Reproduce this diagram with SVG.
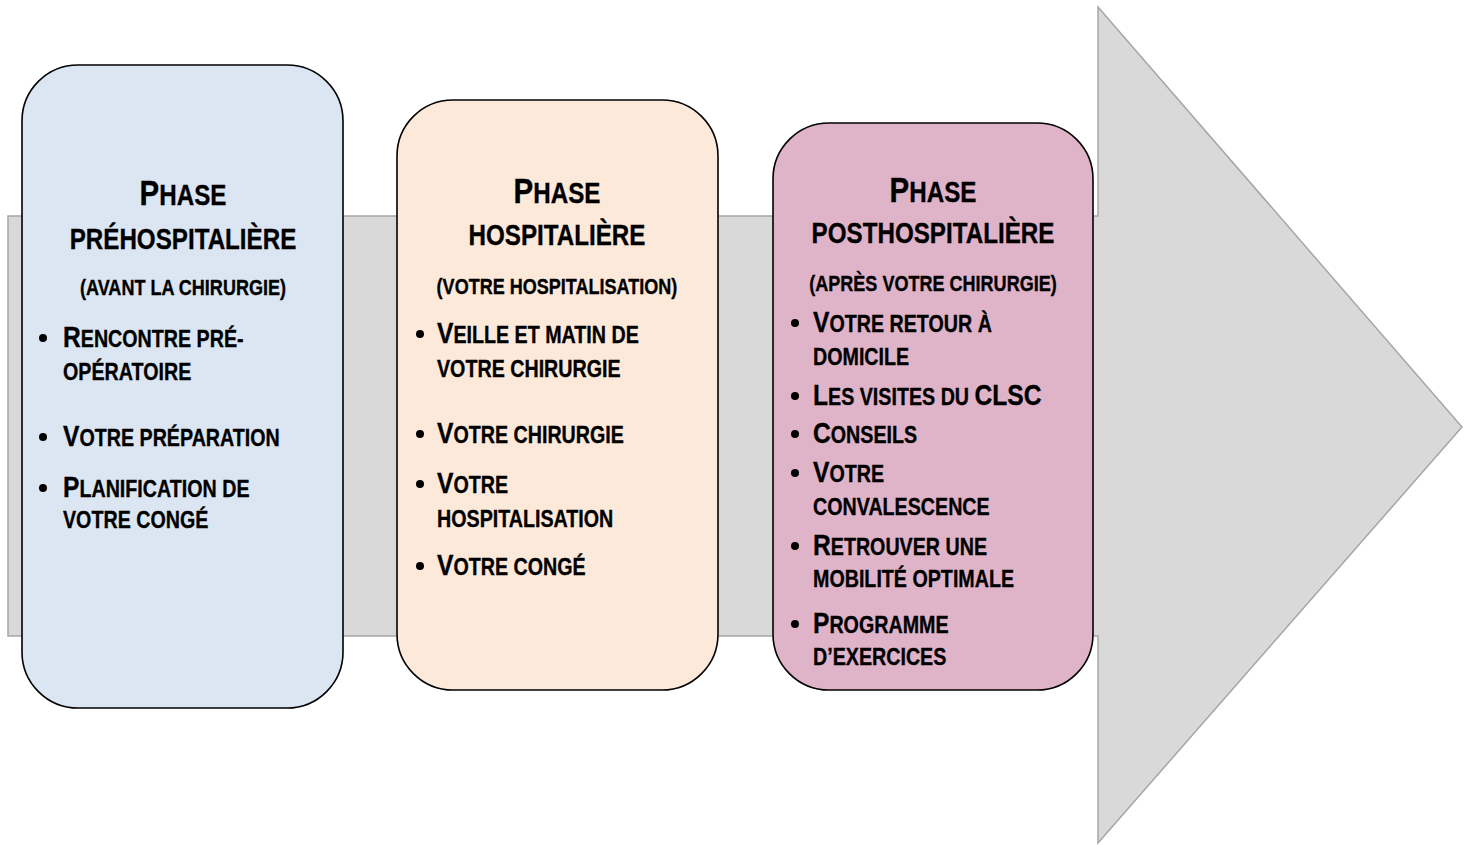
<svg xmlns="http://www.w3.org/2000/svg" width="1468" height="845" viewBox="0 0 1468 845">
<style>
text{font-family:"Liberation Sans Narrow","Liberation Sans",Arial,sans-serif;font-weight:bold;fill:#000;stroke:#000;stroke-width:0.35;}
.h{font-size:29.5px;text-anchor:middle;}
.hb{font-size:36px;}
.p{font-size:22px;text-anchor:middle;}
.t{font-size:24px;}
.b{font-size:30px;}
.box{stroke:#000;stroke-width:1.6;}
.dot{fill:#000;}
</style>
<rect width="1468" height="845" fill="#fff"/>
<g id="arrow">
<polygon points="8,216 1098,216 1098,7 1462,427 1098,843 1098,636 8,636" fill="#d9d9d9" stroke="#a6a6a6" stroke-width="1.5"/>
</g>
<g id="connectors"></g>
<g id="phase1">
<rect class="box" x="22" y="65" width="321" height="643" rx="56" fill="#dce6f2"/>
<text class="h" transform="translate(183 205) scale(0.82 1)"><tspan class="hb">P</tspan>HASE</text>
<text class="h" transform="translate(183 249) scale(0.82 1)">PRÉHOSPITALIÈRE</text>
<text class="p" transform="translate(183 295) scale(0.82 1)">(AVANT LA CHIRURGIE)</text>
<circle class="dot" cx="43" cy="338" r="4"/>
<text class="t" transform="translate(63 347) scale(0.82 1)"><tspan class="b">R</tspan>ENCONTRE PRÉ-</text>
<text class="t" transform="translate(63 380) scale(0.82 1)">OPÉRATOIRE</text>
<circle class="dot" cx="43" cy="437" r="4"/>
<text class="t" transform="translate(63 446) scale(0.82 1)"><tspan class="b">V</tspan>OTRE PRÉPARATION</text>
<circle class="dot" cx="43" cy="488" r="4"/>
<text class="t" transform="translate(63 497) scale(0.82 1)"><tspan class="b">P</tspan>LANIFICATION DE</text>
<text class="t" transform="translate(63 528) scale(0.82 1)">VOTRE CONGÉ</text>
</g>
<g id="phase2">
<rect class="box" x="397" y="100" width="321" height="590" rx="56" fill="#fde9d9"/>
<text class="h" transform="translate(557 203) scale(0.82 1)"><tspan class="hb">P</tspan>HASE</text>
<text class="h" transform="translate(557 245) scale(0.82 1)">HOSPITALIÈRE</text>
<text class="p" transform="translate(557 294) scale(0.82 1)">(VOTRE HOSPITALISATION)</text>
<circle class="dot" cx="420" cy="334" r="4"/>
<text class="t" transform="translate(437 343) scale(0.82 1)"><tspan class="b">V</tspan>EILLE ET MATIN DE</text>
<text class="t" transform="translate(437 377) scale(0.82 1)">VOTRE CHIRURGIE</text>
<circle class="dot" cx="420" cy="434" r="4"/>
<text class="t" transform="translate(437 443) scale(0.82 1)"><tspan class="b">V</tspan>OTRE CHIRURGIE</text>
<circle class="dot" cx="420" cy="484" r="4"/>
<text class="t" transform="translate(437 493) scale(0.82 1)"><tspan class="b">V</tspan>OTRE</text>
<text class="t" transform="translate(437 527) scale(0.82 1)">HOSPITALISATION</text>
<circle class="dot" cx="420" cy="566" r="4"/>
<text class="t" transform="translate(437 575) scale(0.82 1)"><tspan class="b">V</tspan>OTRE CONGÉ</text>
</g>
<g id="phase3">
<rect class="box" x="773" y="123" width="320" height="567" rx="56" fill="#dfb3c8"/>
<text class="h" transform="translate(933 202) scale(0.82 1)"><tspan class="hb">P</tspan>HASE</text>
<text class="h" transform="translate(933 243) scale(0.82 1)">POSTHOSPITALIÈRE</text>
<text class="p" transform="translate(933 291) scale(0.82 1)">(APRÈS VOTRE CHIRURGIE)</text>
<circle class="dot" cx="795" cy="323" r="4"/>
<text class="t" transform="translate(813 332) scale(0.82 1)"><tspan class="b">V</tspan>OTRE RETOUR À</text>
<text class="t" transform="translate(813 365) scale(0.82 1)">DOMICILE</text>
<circle class="dot" cx="795" cy="396" r="4"/>
<text class="t" transform="translate(813 405) scale(0.82 1)"><tspan class="b">L</tspan>ES VISITES DU <tspan class="b">CLSC</tspan></text>
<circle class="dot" cx="795" cy="434" r="4"/>
<text class="t" transform="translate(813 443) scale(0.82 1)"><tspan class="b">C</tspan>ONSEILS</text>
<circle class="dot" cx="795" cy="473" r="4"/>
<text class="t" transform="translate(813 482) scale(0.82 1)"><tspan class="b">V</tspan>OTRE</text>
<text class="t" transform="translate(813 515) scale(0.82 1)">CONVALESCENCE</text>
<circle class="dot" cx="795" cy="546" r="4"/>
<text class="t" transform="translate(813 555) scale(0.82 1)"><tspan class="b">R</tspan>ETROUVER UNE</text>
<text class="t" transform="translate(813 587) scale(0.82 1)">MOBILITÉ OPTIMALE</text>
<circle class="dot" cx="795" cy="624" r="4"/>
<text class="t" transform="translate(813 633) scale(0.82 1)"><tspan class="b">P</tspan>ROGRAMME</text>
<text class="t" transform="translate(813 665) scale(0.82 1)">D’EXERCICES</text>
</g>
</svg>
